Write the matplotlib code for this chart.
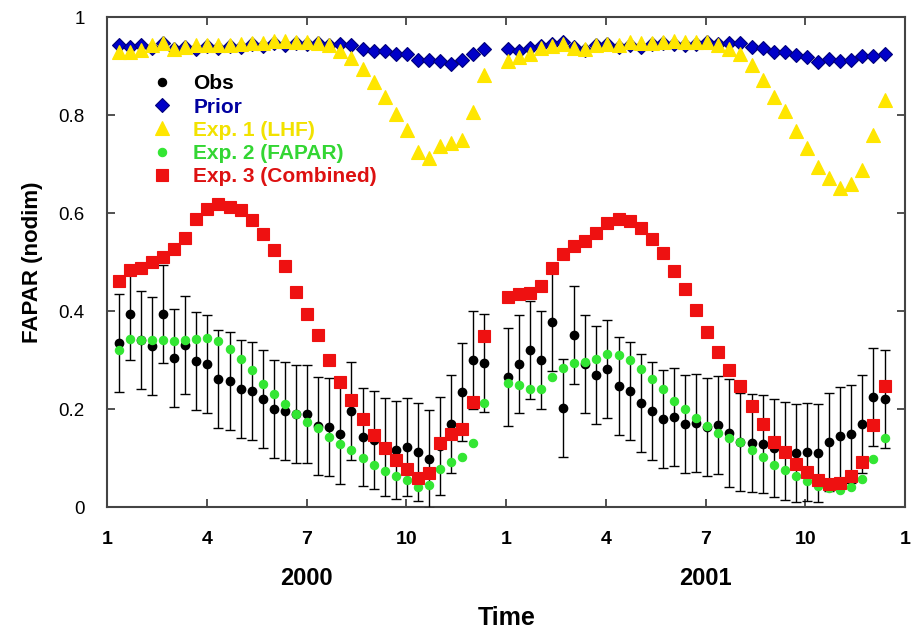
import numpy as np
import matplotlib
matplotlib.use("Agg")
import matplotlib.pyplot as plt
from matplotlib.lines import Line2D

plt.rcParams["font.family"] = ["Liberation Sans", "DejaVu Sans"]

# 10-day FAPAR series, two growing seasons
obs_2000 = [0.334, 0.395, 0.341, 0.329, 0.394, 0.305, 0.331, 0.298, 0.292, 0.261,
            0.257, 0.242, 0.237, 0.220, 0.201, 0.197, 0.191, 0.191, 0.165, 0.164,
            0.150, 0.197, 0.144, 0.137, 0.123, 0.116, 0.123, 0.113, 0.099, 0.125,
            0.169, 0.235, 0.301, 0.295]
obs_2001 = [0.266, 0.293, 0.320, 0.301, 0.377, 0.203, 0.351, 0.293, 0.269, 0.282,
            0.248, 0.237, 0.212, 0.196, 0.180, 0.184, 0.169, 0.172, 0.164, 0.167,
            0.152, 0.133, 0.130, 0.129, 0.120, 0.115, 0.110, 0.113, 0.111, 0.133,
            0.145, 0.149, 0.169, 0.225, 0.220]
err_2000 = [0.100, 0.095, 0.100, 0.100, 0.100, 0.100, 0.100, 0.100, 0.100, 0.100,
            0.100, 0.100, 0.100, 0.100, 0.100, 0.100, 0.100, 0.100, 0.100, 0.100,
            0.103, 0.100, 0.100, 0.100, 0.100, 0.100, 0.100, 0.100, 0.100, 0.100,
            0.100, 0.100, 0.100, 0.100]
err_2001 = [0.100, 0.100, 0.100, 0.100, 0.100, 0.100, 0.100, 0.100, 0.100, 0.100,
            0.100, 0.100, 0.100, 0.100, 0.100, 0.100, 0.100, 0.100, 0.100, 0.100,
            0.110, 0.100, 0.100, 0.100, 0.100, 0.100, 0.100, 0.100, 0.100, 0.100,
            0.100, 0.100, 0.100, 0.100, 0.100]

prior_2000 = [0.943, 0.939, 0.943, 0.937, 0.946, 0.934, 0.939, 0.934, 0.941, 0.937,
              0.941, 0.939, 0.944, 0.941, 0.946, 0.943, 0.946, 0.944, 0.947, 0.943,
              0.944, 0.943, 0.934, 0.931, 0.931, 0.925, 0.924, 0.912, 0.912, 0.911,
              0.905, 0.912, 0.925, 0.934]
prior_2001 = [0.934, 0.931, 0.936, 0.941, 0.945, 0.950, 0.939, 0.933, 0.943, 0.945,
              0.939, 0.943, 0.939, 0.945, 0.946, 0.945, 0.943, 0.945, 0.950, 0.945,
              0.947, 0.947, 0.939, 0.936, 0.929, 0.929, 0.922, 0.918, 0.909, 0.914,
              0.911, 0.912, 0.920, 0.920, 0.924]

lhf_2000 = [0.929, 0.929, 0.933, 0.943, 0.946, 0.934, 0.939, 0.943, 0.943, 0.943,
            0.943, 0.944, 0.947, 0.946, 0.951, 0.951, 0.950, 0.950, 0.947, 0.943,
            0.931, 0.916, 0.893, 0.867, 0.836, 0.802, 0.769, 0.725, 0.712, 0.737,
            0.743, 0.750, 0.807, 0.882]
lhf_2001 = [0.911, 0.918, 0.925, 0.936, 0.941, 0.945, 0.936, 0.934, 0.943, 0.945,
            0.943, 0.950, 0.947, 0.947, 0.950, 0.952, 0.950, 0.950, 0.950, 0.943,
            0.934, 0.925, 0.902, 0.871, 0.837, 0.809, 0.767, 0.732, 0.694, 0.672,
            0.652, 0.659, 0.688, 0.759, 0.831]

fapar_2000 = [0.320, 0.343, 0.341, 0.341, 0.341, 0.339, 0.341, 0.343, 0.346, 0.339,
              0.322, 0.303, 0.280, 0.252, 0.230, 0.210, 0.191, 0.174, 0.161, 0.144,
              0.129, 0.116, 0.101, 0.087, 0.074, 0.064, 0.055, 0.041, 0.046, 0.078,
              0.092, 0.103, 0.130, 0.212]
fapar_2001 = [0.254, 0.249, 0.242, 0.242, 0.266, 0.283, 0.295, 0.297, 0.303, 0.312,
              0.310, 0.300, 0.282, 0.261, 0.241, 0.217, 0.200, 0.182, 0.165, 0.152,
              0.141, 0.132, 0.116, 0.103, 0.086, 0.076, 0.064, 0.053, 0.043, 0.039,
              0.036, 0.041, 0.057, 0.098, 0.141]

comb_2000 = [0.462, 0.484, 0.487, 0.501, 0.510, 0.527, 0.550, 0.587, 0.608, 0.618,
             0.613, 0.606, 0.586, 0.557, 0.524, 0.492, 0.439, 0.394, 0.351, 0.300,
             0.256, 0.218, 0.179, 0.148, 0.121, 0.096, 0.077, 0.059, 0.070, 0.131,
             0.150, 0.159, 0.215, 0.349]
comb_2001 = [0.428, 0.434, 0.437, 0.451, 0.488, 0.516, 0.533, 0.543, 0.560, 0.579,
             0.587, 0.584, 0.569, 0.548, 0.519, 0.482, 0.445, 0.402, 0.358, 0.316,
             0.280, 0.247, 0.206, 0.169, 0.133, 0.113, 0.089, 0.072, 0.055, 0.048,
             0.050, 0.063, 0.092, 0.167, 0.248]

# month axis: 1..13 is 2000, 13..25 is 2001
t = np.concatenate([1.35 + np.arange(len(obs_2000)) / 3.0,
                    13.05 + np.arange(len(obs_2001)) / 3.0])


def both(a, b):
    return np.array(a + b)


fig = plt.figure(figsize=(9.11, 6.30), dpi=100)
ax = fig.add_axes([0.1175, 0.195, 0.876, 0.778])

ax.errorbar(t, both(obs_2000, obs_2001), yerr=both(err_2000, err_2001),
            fmt="o", color="black", ms=6, elinewidth=1.0, capsize=3.5,
            capthick=1.0, zorder=3)
styles = [
    ("Obs", "o", "black", "black", 6),
    ("Prior", "D", "#0000c8", "#00007a", 7),
    ("Exp. 1 (LHF)", "^", "#ffe600", "#ffe600", 9.5),
    ("Exp. 2 (FAPAR)", "o", "#33e633", "#33e633", 6),
    ("Exp. 3 (Combined)", "s", "#ee1111", "#ee1111", 8.5),
]
series = {
    "Prior": both(prior_2000, prior_2001),
    "Exp. 1 (LHF)": both(lhf_2000, lhf_2001),
    "Exp. 2 (FAPAR)": both(fapar_2000, fapar_2001),
    "Exp. 3 (Combined)": both(comb_2000, comb_2001),
}
handles = []
for z, (name, mk, fc, ec, ms) in enumerate(styles):
    if name in series:
        ax.plot(t, series[name], mk, color=fc, mec=ec, mew=0.8, ms=ms,
                linestyle="none", zorder=4 + z)
    handles.append(Line2D([], [], marker=mk, color=fc, mec=ec, mew=0.8,
                          ms=ms, linestyle="none", label=name))

ax.set_xlim(1, 25)
ax.set_ylim(0, 1)
ax.set_xticks([1, 4, 7, 10, 13, 16, 19, 22, 25])
ax.set_xticklabels(["1", "4", "7", "10", "1", "4", "7", "10", "1"],
                   fontsize=14, fontweight="bold")
ax.set_yticks([0, 0.2, 0.4, 0.6, 0.8, 1.0])
ax.set_yticklabels(["0", "0.2", "0.4", "0.6", "0.8", "1"], fontsize=13.5)
ax.tick_params(axis="both", direction="in", length=6, width=1.2,
               top=True, right=True, colors="#333333")
ax.tick_params(axis="x", pad=17, labelcolor="black")
ax.tick_params(axis="y", pad=16, labelcolor="black")
for s in ax.spines.values():
    s.set_color("#444444")
    s.set_linewidth(1.5)

ax.set_ylabel("FAPAR (nodim)", fontsize=16, fontweight="bold", labelpad=11)
fig.text(0.5565, 0.019, "Time", fontsize=18, fontweight="bold", ha="center",
         va="center")
ax.text(7, -0.145, "2000", fontsize=17, fontweight="bold", ha="center",
        va="center")
ax.text(19, -0.145, "2001", fontsize=17, fontweight="bold", ha="center",
        va="center")

leg = ax.legend(handles=handles, loc="upper left", bbox_to_anchor=(0.043, 0.9),
                frameon=False, prop={"size": 15, "weight": "bold"},
                labelspacing=0.2, handletextpad=0.9, handlelength=1.2,
                borderaxespad=0)
text_colors = ["black", "#0000a0", "#f2e200", "#33d633", "#dd1111"]
for txt, c in zip(leg.get_texts(), text_colors):
    txt.set_color(c)

fig.savefig("out.png", dpi=100)
